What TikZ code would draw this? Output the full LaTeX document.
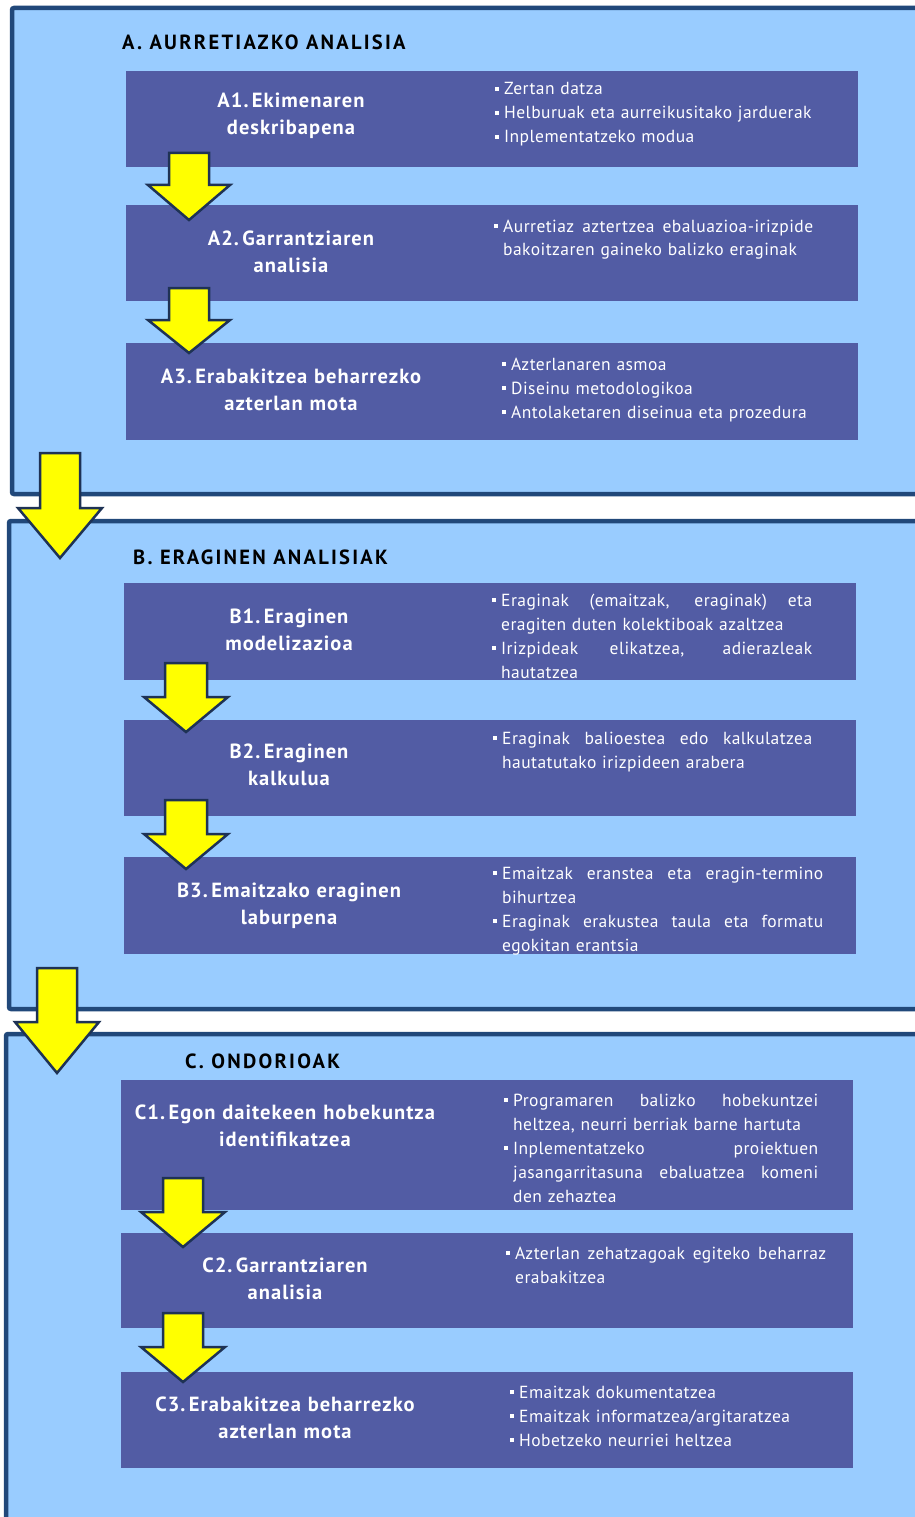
\documentclass[tikz,border=0pt]{standalone}
\usepackage{fontspec}
\setmainfont{PT Sans}
\definecolor{panelfill}{RGB}{153,204,255}
\definecolor{panelborder}{RGB}{33,72,122}
\definecolor{boxfill}{RGB}{82,92,164}
\definecolor{arrowline}{RGB}{30,50,85}
\definecolor{ylw}{RGB}{255,255,0}
\newcommand{\itm}{\makebox[0pt][r]{\rule[4pt]{4pt}{4pt}\hspace{5pt}}}
\newcommand{\jst}[2]{\makebox[#1pt][s]{\spaceskip=0.25em plus 1fil\relax #2}}
\newcommand{\yarrow}[6]{%
  \draw[yarr] ({#1-#5},{#2}) -- ({#1+#5},{#2}) -- ({#1+#5},{#3}) -- ({#1+#6},{#3}) -- ({#1},{#4}) -- ({#1-#6},{#3}) -- ({#1-#5},{#3}) -- cycle;}
\tikzset{
  panel/.style={draw=panelborder, line width=4.5pt, fill=panelfill, rounded corners=2pt},
  stepbox/.style={fill=boxfill, draw=none, minimum width=732pt, inner sep=0pt},
  ttl/.style={text=white, font=\fontsize{20.5}{27}\selectfont\bfseries\addfontfeatures{LetterSpace=5}, text width=400pt, align=center, anchor=base, inner sep=0pt},
  bl/.style={text=white, font=\fontsize{17.5}{24}\selectfont\addfontfeatures{LetterSpace=2.5}, anchor=base west, inner sep=0pt, align=left},
  hd/.style={font=\fontsize{20.5}{20}\selectfont\bfseries\addfontfeatures{LetterSpace=11}, anchor=base west, inner sep=0pt},
  yarr/.style={fill=ylw, draw=arrowline, line width=2.5pt, line join=miter},
}
\begin{document}
\begin{tikzpicture}[x=1pt,y=-1pt]
\useasboundingbox (0,0) rectangle (915,1517);
\clip (0,0) rectangle (915,1517);
\fill[white] (0,0) rectangle (915,1517);
% panels
\draw[panel] (12,8) rectangle (935,494);
\draw[panel] (9,521) rectangle (935,1009);
\draw[panel] (6,1034) rectangle (935,1540);
% headings
\node[hd] (hA) at (122,50) {A. AURRETIAZKO ANALISIA};
\node[hd] (hB) at (133,564) {B. ERAGINEN ANALISIAK};
\node[hd] (hC) at (185,1068) {C. ONDORIOAK};
% boxes A
\node[stepbox, minimum height=96pt] (A1) at (492,119) {};
\node[stepbox, minimum height=96pt] (A2) at (492,253) {};
\node[stepbox, minimum height=97pt] (A3) at (492,391.5) {};
% boxes B
\node[stepbox, minimum height=97pt] (B1) at (490,631.5) {};
\node[stepbox, minimum height=96pt] (B2) at (490,768) {};
\node[stepbox, minimum height=97pt] (B3) at (490,905.5) {};
% boxes C
\node[stepbox, minimum height=130pt] (C1) at (487,1145) {};
\node[stepbox, minimum height=95pt] (C2) at (487,1280.5) {};
\node[stepbox, minimum height=96pt] (C3) at (487,1420) {};
% titles
\node[ttl] (tA1) at (291,108) {A1.\,Ekimenaren\\deskribapena};
\node[ttl] (tA2) at (291,245) {A2.\,Garrantziaren\\analisia};
\node[ttl] (tA3) at (291,383) {A3.\,Erabakitzea beharrezko\\azterlan mota};
\node[ttl] (tB1) at (289,623) {B1.\,Eraginen\\modelizazioa};
\node[ttl] (tB2) at (289,758) {B2.\,Eraginen\\kalkulua};
\node[ttl] (tB3) at (289,897) {B3.\,Emaitzako eraginen\\laburpena};
\node[ttl] (tC1) at (285,1119) {C1.\,Egon daitekeen hobekuntza\\identifikatzea};
\node[ttl] (tC2) at (285,1272) {C2.\,Garrantziaren\\analisia};
\node[ttl] (tC3) at (285,1411) {C3.\,Erabakitzea beharrezko\\azterlan mota};
% bullets
\node[bl, text width=340pt] (lA1) at (504,95) {\itm Zertan datza\\\itm Helburuak eta aurreikusitako jarduerak\\\itm Inplementatzeko modua};
\node[bl, text width=340pt] (lA2) at (503,232) {\itm\jst{310}{Aurretiaz aztertzea ebaluazioa-irizpide}\\bakoitzaren gaineko balizko eraginak};
\node[bl, text width=340pt] (lA3) at (511,370) {\itm Azterlanaren asmoa\\\itm Diseinu metodologikoa\\\itm Antolaketaren diseinua eta prozedura};
\node[bl, text width=340pt] (lB1) at (501,606) {\itm\jst{311}{Eraginak (emaitzak, eraginak) eta}\\eragiten duten kolektiboak azaltzea\\\itm\jst{311}{Irizpideak elikatzea, adierazleak}\\hautatzea};
\node[bl, text width=340pt] (lB2) at (502,744) {\itm\jst{310}{Eraginak balioestea edo kalkulatzea}\\hautatutako irizpideen arabera};
\node[bl, text width=340pt] (lB3) at (502,879) {\itm\jst{321}{Emaitzak eranstea eta eragin-termino}\\bihurtzea\\\itm\jst{321}{Eraginak erakustea taula eta formatu}\\egokitan erantsia};
\node[bl, text width=340pt] (lC1) at (513,1106) {\itm\jst{305}{Programaren balizko hobekuntzei}\\heltzea, neurri berriak barne hartuta\\\itm\jst{305}{Inplementatzeko proiektuen}\\\jst{305}{jasangarritasuna ebaluatzea komeni}\\den zehaztea};
\node[bl, text width=340pt] (lC2) at (515,1259) {\itm\jst{311}{Azterlan zehatzagoak egiteko beharraz}\\erabakitzea};
\node[bl, text width=340pt] (lC3) at (519,1398) {\itm Emaitzak dokumentatzea\\\itm Emaitzak informatzea/argitaratzea\\\itm Hobetzeko neurriei heltzea};
% arrows
\yarrow{189}{153}{185}{220}{20}{41}
\yarrow{189}{288}{320}{353}{20}{41}
\yarrow{186}{663}{697}{732}{21}{42}
\yarrow{186}{800}{834}{869}{21}{42}
\yarrow{183}{1178}{1212}{1247}{20}{42}
\yarrow{183}{1313}{1347}{1382}{20}{42}
\yarrow{60}{453}{508}{558}{20}{42}
\yarrow{57}{968}{1022}{1073}{20}{42}
\end{tikzpicture}
\end{document}
